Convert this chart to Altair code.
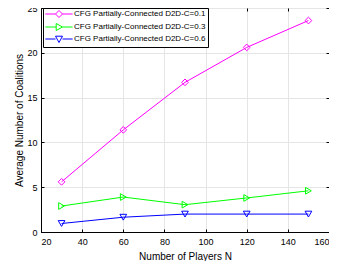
import altair as alt
import pandas as pd

players = [30, 60, 90, 120, 150]
series_names = [
    "CFG Partially-Connected D2D-C=0.1",
    "CFG Partially-Connected D2D-C=0.3",
    "CFG Partially-Connected D2D-C=0.6",
]
vals_01 = [5.6, 11.4, 16.7, 20.6, 23.6]
vals_03 = [2.9, 3.9, 3.05, 3.8, 4.6]
vals_06 = [0.95, 1.65, 2.0, 2.0, 2.0]
x_ticks = [20, 40, 60, 80, 100, 120, 140, 160]
y_ticks = [0, 5, 10, 15, 20, 25]
colors = ["#FF00FF", "#00FF00", "#0000FF"]
shapes = ["diamond", "triangle-right", "triangle-down"]
legend_shapes = [
    "M-3.9,0H-1M1,0H3.9M0,-1L1,0L0,1L-1,0Z",
    "M-3.9,0H-0.8M1,0H3.9M-0.8,-1L1,0L-0.8,1Z",
    "M-3.9,0H-1M1,0H3.9M-1,-0.8L1,-0.8L0,1Z",
]

rows = []
for name, vals in zip(series_names, [vals_01, vals_03, vals_06]):
    for p, v in zip(players, vals):
        rows.append({"N": p, "val": v, "series": name})
df = pd.DataFrame(rows)

xscale = alt.Scale(domain=[20, 160], nice=False)
yscale = alt.Scale(domain=[0, 25], nice=False)
inward = {"expr": "-3"}

x = alt.X("N:Q", scale=xscale,
          axis=alt.Axis(values=x_ticks, title="Number of Players N",
                        tickSize=inward, labelPadding=8, titlePadding=5))
y = alt.Y("val:Q", scale=yscale,
          axis=alt.Axis(values=y_ticks, title="Average Number of Coalitions",
                        tickSize=inward, labelPadding=7, titlePadding=2))
x_top = alt.X("N:Q", scale=xscale,
              axis=alt.Axis(orient="top", values=x_ticks, title=None, labels=False,
                            grid=False, domain=False, tickSize=inward))
y_right = alt.Y("val:Q", scale=yscale,
                axis=alt.Axis(orient="right", values=y_ticks, title=None, labels=False,
                              grid=False, domain=False, tickSize=inward))

color_plain = alt.Color("series:N", scale=alt.Scale(domain=series_names, range=colors), legend=None)

lines = alt.Chart(df).mark_line(strokeWidth=1).encode(x=x, y=y, color=color_plain)
points = alt.Chart(df).mark_point(filled=False, size=45, strokeWidth=1, opacity=1).encode(
    x=alt.X("N:Q", scale=xscale, axis=None),
    y=alt.Y("val:Q", scale=yscale, axis=None),
    color=color_plain,
    shape=alt.Shape("series:N", scale=alt.Scale(domain=series_names, range=shapes), legend=None),
)

leg = alt.Legend(
    orient="none", legendX=2, legendY=0, title=None,
    fillColor="white", strokeColor="black", padding=2,
    symbolSize=49, symbolStrokeWidth=1, symbolOffset=10, labelOffset=11,
    labelFont="Liberation Sans", labelFontSize=8, labelColor="black",
    rowPadding=1, cornerRadius=0,
)
legend_layer = alt.Chart(df).transform_filter("false").mark_point(
    filled=False, strokeWidth=1, opacity=1).encode(
    x=x_top, y=y_right,
    color=alt.Color("series:N", scale=alt.Scale(domain=series_names, range=colors), legend=leg),
    shape=alt.Shape("series:N", scale=alt.Scale(domain=series_names, range=legend_shapes), legend=leg),
)

chart = alt.layer(lines, points, legend_layer).resolve_scale(
    color="independent", shape="independent"
).resolve_axis(x="independent", y="independent").properties(
    width=288, height=224,
    autosize=alt.AutoSizeParams(type="none"),
    padding={"left": 33, "top": 0, "right": 0, "bottom": 29},
).configure_view(stroke="black", strokeWidth=1).configure_axis(
    labelFont="Liberation Sans", titleFont="Liberation Sans",
    labelFontSize=9, titleFontSize=10, labelColor="black", titleColor="black",
    titleFontWeight="normal", gridColor="#E5E5E5", gridWidth=1,
    domainColor="black", domainWidth=1, tickColor="black", tickWidth=1,
)

chart.save("out.html", embed_options={"renderer": "svg", "actions": False})
